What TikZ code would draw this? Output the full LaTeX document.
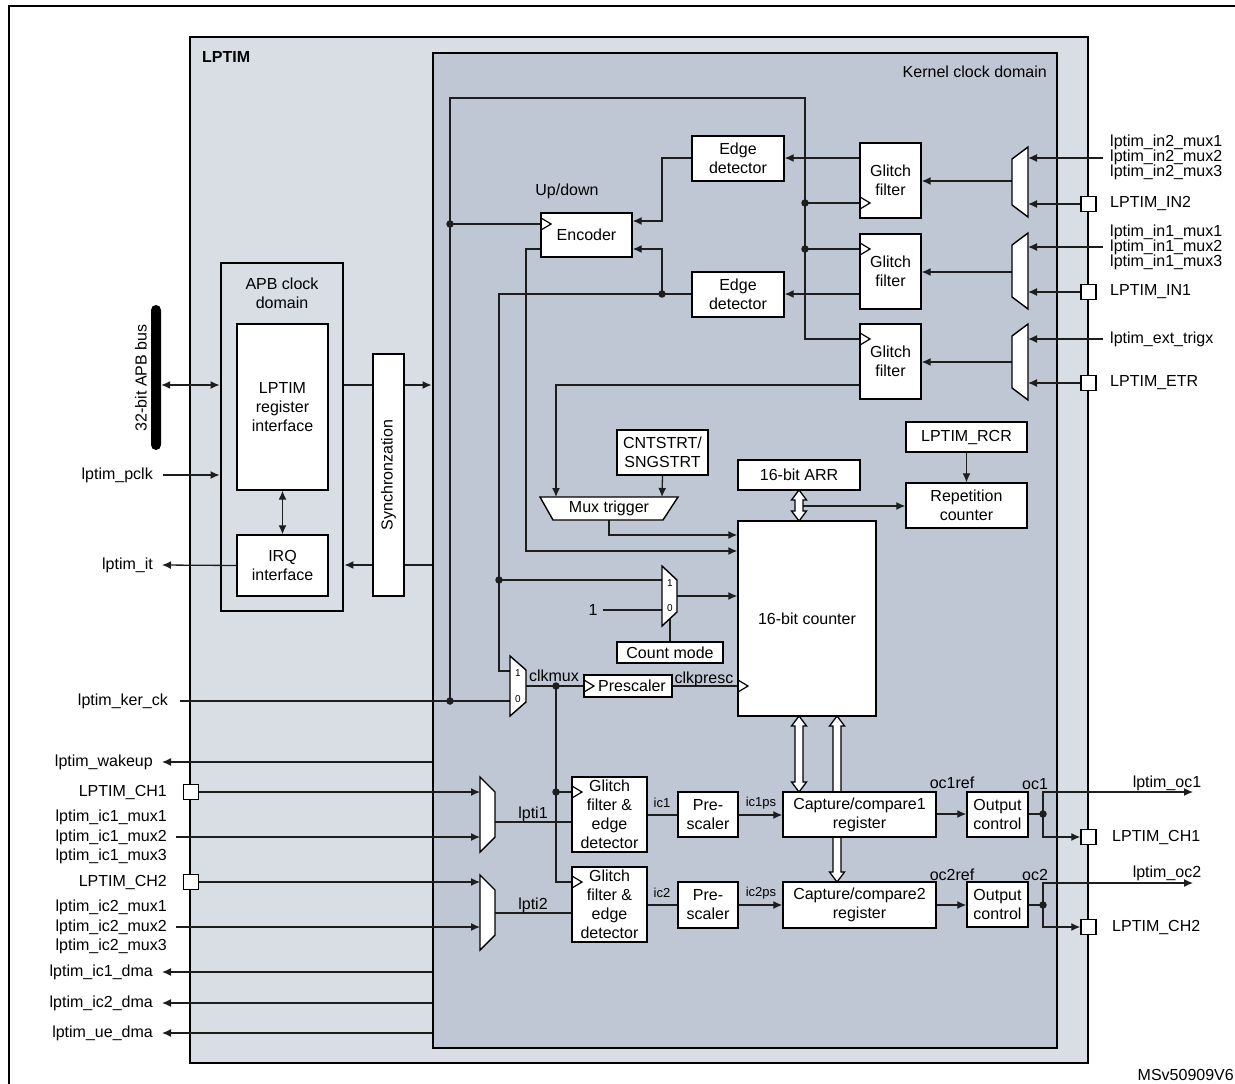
\documentclass[tikz,border=0pt]{standalone}
\usepackage{fontspec}
\setmainfont{Liberation Sans}
\usetikzlibrary{arrows.meta,calc}
\pgfdeclarelayer{back}
\pgfdeclarelayer{wire}
\pgfsetlayers{back,wire,main}
\newcommand\nfnt{\fontsize{16}{19}\selectfont}
\newcommand\rfnt{\fontsize{16}{15}\selectfont}
\newcommand\lfnt{\fontsize{16}{19.5}\selectfont}
\newcommand\sfnt{\fontsize{13}{15}\selectfont}
\newcommand\tfnt{\fontsize{10}{11}\selectfont}
\definecolor{lpfill}{RGB}{217,221,228}
\definecolor{kfill}{RGB}{191,199,213}
\definecolor{wcol}{RGB}{30,30,30}
\newcommand\holarrow[3]{\draw[hol] (#1-4,#2+10) -- (#1-7.5,#2+10) -- (#1,#2) -- (#1+7.5,#2+10) -- (#1+4,#2+10) -- (#1+4,#3-10) -- (#1+7.5,#3-10) -- (#1,#3) -- (#1-7.5,#3-10) -- (#1-4,#3-10) -- cycle;}
\begin{document}
\begin{tikzpicture}[x=1pt,y=-1pt,
  blk/.style={draw=black, line width=1.4pt, fill=white, inner sep=0pt, align=center, font=\nfnt},
  wh/.style 2 args={minimum width=#1pt, minimum height=#2pt},
  wire/.style={line width=1.3pt, draw=wcol},
  arr/.style={wire, -{Latex[length=9pt,width=8pt]}},
  darr/.style={wire, {Latex[length=9pt,width=8pt]}-{Latex[length=9pt,width=8pt]}},
  cont/.style={draw=black, line width=2.8pt, inner sep=0pt},
  lbl/.style={inner sep=0pt, font=\nfnt},
  slbl/.style={inner sep=0pt, font=\sfnt},
  tlbl/.style={inner sep=0pt, font=\tfnt},
  dotn/.style={circle, fill=wcol, inner sep=0pt, minimum size=7.5pt},
  pad/.style={draw=black, line width=1.4pt, fill=white, minimum size=15pt, inner sep=0pt},
  mux/.style={draw=black, line width=1.4pt, fill=white, line join=miter},
  clk/.style={draw=black, line width=1.2pt},
  hol/.style={draw=black, line width=1.3pt, fill=white, line join=miter},
]
\useasboundingbox (0,0) rectangle (1235,1084);

% ---------- containers ----------
\begin{pgfonlayer}{back}
\draw[line width=2pt] (9,1084) -- (9,6) -- (1235,6);
\node[cont, fill=lpfill, wh={898}{1026}] (lptim) at (639,550) {};
\node[cont, fill=kfill, wh={624}{995}] (kern) at (745,550.5) {};
\node[cont, fill=lpfill, wh={122}{348}] (apb) at (282,437) {};
\end{pgfonlayer}

\node[lbl, font=\nfnt\bfseries, anchor=west] (tlp) at (202,57) {LPTIM};
\node[lbl, anchor=east] (tkd) at (1047,72) {Kernel clock domain};
\node[lbl, align=center] (tapb) at (282,293) {APB clock\\domain};

% ---------- blocks ----------
\node[blk, wh={91}{166}] (regif) at (282.5,407) {LPTIM\\register\\interface};
\node[blk, wh={91}{61}] (irq) at (282.5,565.5) {IRQ\\interface};
\node[blk, rotate=90, wh={242}{31}] (sync) at (388.5,475) {Synchronzation};
\node[fill=black, rounded corners=5pt, minimum width=10pt, minimum height=145pt, inner sep=0pt] (bus) at (156,377.5) {};
\node[lbl, rotate=90] (tbus) at (141,378) {32-bit APB bus};

\node[blk, wh={92}{45}] (ed1) at (738,158.5) {Edge\\detector};
\node[blk, wh={92}{45}] (ed2) at (738,294.5) {Edge\\detector};
\node[blk, wh={61}{75}] (gf1) at (890.5,180.5) {Glitch\\filter};
\node[blk, wh={61}{75}] (gf2) at (890.5,271.5) {Glitch\\filter};
\node[blk, wh={61}{75}] (gf3) at (890.5,361.5) {Glitch\\filter};
\node[blk, wh={91}{44}] (enc) at (586.5,235) {Encoder};
\node[lbl] (tud) at (567,191) {Up/down};
\node[blk, wh={91}{45}] (cst) at (662.5,452.5) {CNTSTRT/\\SNGSTRT};
\node[blk, wh={122}{30}] (arr) at (799,475) {16-bit ARR};
\node[blk, wh={121}{30}] (rcr) at (966.5,437) {LPTIM\_RCR};
\node[blk, wh={121}{45}] (repc) at (966.5,505.5) {Repetition\\counter};
\node[blk, wh={138}{195}] (cnt) at (807,618.5) {16-bit counter};
\node[blk, wh={106}{21}] (cmode) at (670,652.5) {Count mode};
\node[blk, wh={88}{22}] (presc) at (628,686) {\hspace*{8pt}Prescaler};
\node[blk, wh={75}{75}] (gfed1) at (609.5,814.5) {Glitch\\filter \&\\edge\\detector};
\node[blk, wh={75}{75}] (gfed2) at (609.5,904.5) {Glitch\\filter \&\\edge\\detector};
\node[blk, wh={60}{45}] (pre1) at (708,814.5) {Pre-\\scaler};
\node[blk, wh={60}{46}] (pre2) at (708,905) {Pre-\\scaler};
\node[blk, wh={153}{45}] (cc1) at (859.5,814.5) {Capture/compare1\\register};
\node[blk, wh={153}{46}] (cc2) at (859.5,905) {Capture/compare2\\register};
\node[blk, wh={61}{45}] (oc1) at (997.5,814.5) {Output\\control};
\node[blk, wh={61}{45}] (oc2) at (997.5,904.5) {Output\\control};

% pads
\node[pad] (pin2) at (1088.5,204) {};
\node[pad] (pin1) at (1088.5,292) {};
\node[pad] (petr) at (1088.5,383) {};
\node[pad] (pch1r) at (1088.5,837) {};
\node[pad] (pch2r) at (1088.5,927) {};
\node[pad] (pch1) at (191,792) {};
\node[pad] (pch2) at (191,882) {};

% muxes
\draw[mux] (1028,147) -- (1028,217) -- (1012,205) -- (1012,159) -- cycle;
\draw[mux] (1028,233) -- (1028,309) -- (1012,297) -- (1012,245) -- cycle;
\draw[mux] (1028,324) -- (1028,400) -- (1012,388) -- (1012,336) -- cycle;
\draw[mux] (480,777) -- (495,792) -- (495,837) -- (480,852) -- cycle;
\draw[mux] (480,875) -- (495,890) -- (495,935) -- (480,950) -- cycle;
\draw[mux] (662,566) -- (677,580) -- (677,612) -- (662,626) -- cycle;
\draw[mux] (510,656) -- (526,670) -- (526,702) -- (510,716) -- cycle;
\draw[mux] (540,497) -- (678,497) -- (663,520) -- (553,520) -- cycle;
\node[lbl] (mtrig) at (609,508.5) {Mux trigger};
\node[tlbl] (k1) at (670,583) {1};
\node[tlbl] (k0) at (670,608) {0};
\node[tlbl] (c1) at (518,673) {1};
\node[tlbl] (c0) at (518,699) {0};

% mux pins
\coordinate (mAi1) at (1028,158); \coordinate (mAi2) at (1028,204); \coordinate (mAo) at (1012,181);
\coordinate (mBi1) at (1028,247); \coordinate (mBi2) at (1028,292); \coordinate (mBo) at (1012,272);
\coordinate (mCi1) at (1028,339); \coordinate (mCi2) at (1028,383); \coordinate (mCo) at (1012,362);
\coordinate (c1i1) at (480,792); \coordinate (c1i2) at (480,837); \coordinate (c1o) at (495,822);
\coordinate (c2i1) at (480,882); \coordinate (c2i2) at (480,927); \coordinate (c2o) at (495,913);
\coordinate (kmi1) at (662,580); \coordinate (kmi0) at (662,610); \coordinate (kmo) at (677,596); \coordinate (kms) at (670,618);
\coordinate (cmi1) at (510,671); \coordinate (cmi0) at (510,701); \coordinate (cmo) at (526,686);
\coordinate (mti1) at (556,497); \coordinate (mti2) at (662,497); \coordinate (mto) at (609,520);
% junctions
\coordinate (jk) at (450,701); \coordinate (jenc) at (450,224);
\coordinate (jg1) at (805,203); \coordinate (jg2) at (805,249);
\coordinate (jed) at (662,294); \coordinate (jcm) at (499,580);
\coordinate (jck) at (556,686); \coordinate (jgf) at (556,792);
\coordinate (jo1) at (1043,814); \coordinate (jo2) at (1043,905);
\coordinate (arrj) at (803,506);
\coordinate (oc1end) at (1193,792); \coordinate (oc2end) at (1193,883);

% ---------- labels outside ----------
\node[lbl, anchor=east] (pclk) at (153,475) {lptim\_pclk};
\node[lbl, anchor=east] (itl) at (153,565) {lptim\_it};
\node[lbl, anchor=east] (kerck) at (168,701) {lptim\_ker\_ck};
\node[lbl, anchor=east] (wake) at (153,762) {lptim\_wakeup};
\node[lbl, anchor=east] (tch1) at (167,792) {LPTIM\_CH1};
\node[lbl, anchor=east, align=right, font=\lfnt] (ic1m) at (167,837) {lptim\_ic1\_mux1\\lptim\_ic1\_mux2\\lptim\_ic1\_mux3};
\node[lbl, anchor=east] (tch2) at (167,882) {LPTIM\_CH2};
\node[lbl, anchor=east, align=right, font=\lfnt] (ic2m) at (167,927) {lptim\_ic2\_mux1\\lptim\_ic2\_mux2\\lptim\_ic2\_mux3};
\node[lbl, anchor=east] (dma1) at (153,972) {lptim\_ic1\_dma};
\node[lbl, anchor=east] (dma2) at (153,1003) {lptim\_ic2\_dma};
\node[lbl, anchor=east] (dma3) at (153,1033) {lptim\_ue\_dma};

\node[lbl, anchor=west, align=left, font=\rfnt] (in2m) at (1110,157) {lptim\_in2\_mux1\\lptim\_in2\_mux2\\lptim\_in2\_mux3};
\node[lbl, anchor=west] (tin2) at (1110,204) {LPTIM\_IN2};
\node[lbl, anchor=west, align=left, font=\rfnt] (in1m) at (1110,247) {lptim\_in1\_mux1\\lptim\_in1\_mux2\\lptim\_in1\_mux3};
\node[lbl, anchor=west] (tin1) at (1110,292) {LPTIM\_IN1};
\node[lbl, anchor=west] (ext) at (1110,339) {lptim\_ext\_trigx};
\node[lbl, anchor=west] (tetr) at (1110,383) {LPTIM\_ETR};
\node[lbl, anchor=west] (tch1r) at (1112,837) {LPTIM\_CH1};
\node[lbl, anchor=west] (tch2r) at (1112,927) {LPTIM\_CH2};
\node[lbl] (toc1) at (1167,783) {lptim\_oc1};
\node[lbl] (toc2) at (1167,873) {lptim\_oc2};
\node[lbl, anchor=east] (msv) at (1234,1075) {MSv50909V6};

% inner signal labels
\node[lbl] (tone) at (593,610) {1};
\node[lbl] (tclkmux) at (554,676) {clkmux};
\node[lbl] (tclkpresc) at (704,679) {clkpresc};
\node[lbl] (tlpti1) at (533,814) {lpti1};
\node[lbl] (tlpti2) at (533,905) {lpti2};
\node[slbl] (tic1) at (662,803) {ic1};
\node[slbl] (tic2) at (662,893) {ic2};
\node[slbl] (tic1ps) at (761,803) {ic1ps};
\node[slbl] (tic2ps) at (761,893) {ic2ps};
\node[lbl] (toc1ref) at (952,783) {oc1ref};
\node[lbl] (toc2ref) at (952,875) {oc2ref};
\node[lbl] (tocx1) at (1035,784) {oc1};
\node[lbl] (tocx2) at (1035,875) {oc2};

% ---------- wires ----------
\begin{pgfonlayer}{wire}
% APB side
\draw[darr] (bus.east |- 0,385) -- (apb.west |- 0,385);
\draw[arr] ([xshift=10pt]pclk.east) -- (apb.west |- 0,475);
\draw[arr] (irq.west) -- ([xshift=9pt]itl.east);
\draw[arr] (apb.east |- 0,385) -- (kern.west |- 0,385);
\draw[arr] (kern.west |- 0,565) -- (apb.east |- 0,565);
\draw[darr] (regif.south) -- (irq.north);
% kernel clock tree
\draw[wire] (jk) -- (jenc) -- (450,98) -- (805,98) -- (jg1) -- (jg2) -- (805,339) -- (gf3.west |- 0,339);
\draw[wire] (jenc) -- (enc.west |- jenc);
\draw[wire] (jg1) -- (gf1.west |- jg1);
\draw[wire] (jg2) -- (gf2.west |- jg2);
% input muxes
\draw[arr] ([xshift=-7pt]in2m.west |- mAi1) -- (mAi1);
\draw[arr] (pin2.west) -- (mAi2);
\draw[arr] ([xshift=-7pt]in1m.west |- mBi1) -- (mBi1);
\draw[arr] (pin1.west) -- (mBi2);
\draw[arr] ([xshift=-7pt]ext.west) -- (mCi1);
\draw[arr] (petr.west) -- (mCi2);
\draw[arr] (mAo) -- (gf1.east |- mAo);
\draw[arr] (mBo) -- (gf2.east |- mBo);
\draw[arr] (mCo) -- (gf3.east |- mCo);
% edge detectors / encoder
\draw[arr] (gf1.west |- 0,158) -- (ed1.east |- 0,158);
\draw[arr] (gf2.west |- 0,294) -- (ed2.east |- 0,294);
\draw[arr] (ed1.west |- 0,158) -- (662,158) -- (662,221) -- (enc.east |- 0,221);
\draw[wire] (ed2.west |- jed) -- (jed);
\draw[arr] (jed) -- (662,249) -- (enc.east |- 0,249);
\draw[wire] (jed) -- (499,294) -- (jcm) -- (499,671) -- (cmi1);
\draw[wire] (jcm) -- (kmi1);
\draw[wire] ([xshift=5pt]tone.east) -- (kmi0);
\draw[arr] (kmo) -- (cnt.west |- kmo);
\draw[wire] (kms) -- (cmode.north);
\draw[arr] (enc.west |- 0,249) -- (526,249) -- (526,551) -- (cnt.west |- 0,551);
\draw[arr] (gf3.west |- 0,385) -- (556,385) -- (mti1);
\draw[arr] (cst.south) -- (mti2);
\draw[arr] (mto) -- (609,535) -- (cnt.west |- 0,535);
% clocks
\draw[wire] ([xshift=12pt]kerck.east) -- (jk) -- (cmi0);
\draw[wire] (cmo) -- (jck) -- (presc.west |- jck);
\draw[wire] (presc.east |- jck) -- (cnt.west |- jck);
\draw[wire] (jck) -- (jgf) -- (556,882) -- (gfed2.west |- 0,882);
\draw[wire] (jgf) -- (gfed1.west |- jgf);
% ARR / repetition
\draw[arr] (arrj) -- (repc.west |- arrj);
\draw[arr] (rcr.south) -- (repc.north);
\holarrow{799}{490}{521}
\holarrow{799}{716}{792}
\holarrow{837}{716}{882}
% capture channels
\draw[arr] (pch1.east) -- (c1i1);
\draw[arr] ([xshift=9pt]ic1m.east |- c1i2) -- (c1i2);
\draw[arr] (pch2.east) -- (c2i1);
\draw[arr] ([xshift=9pt]ic2m.east |- c2i2) -- (c2i2);
\draw[wire] (c1o) -- (gfed1.west |- c1o);
\draw[wire] (c2o) -- (gfed2.west |- c2o);
\draw[wire] (gfed1.east |- 0,815) -- (pre1.west |- 0,815);
\draw[wire] (gfed2.east |- 0,905) -- (pre2.west |- 0,905);
\draw[arr] (pre1.east |- 0,815) -- (cc1.west |- 0,815);
\draw[arr] (pre2.east |- 0,905) -- (cc2.west |- 0,905);
\draw[arr] (cc1.east |- 0,814) -- (oc1.west |- 0,814);
\draw[arr] (cc2.east |- 0,905) -- (oc2.west |- 0,905);
\draw[wire] (oc1.east |- jo1) -- (jo1);
\draw[arr] (jo1) -- (1043,792) -- (oc1end);
\draw[arr] (jo1) -- (1043,837) -- (pch1r.west);
\draw[wire] (oc2.east |- jo2) -- (jo2);
\draw[arr] (jo2) -- (1043,883) -- (oc2end);
\draw[arr] (jo2) -- (1043,927) -- (pch2r.west);
% outputs on left
\draw[arr] (kern.west |- 0,762) -- ([xshift=9pt]wake.east);
\draw[arr] (kern.west |- 0,972) -- ([xshift=9pt]dma1.east);
\draw[arr] (kern.west |- 0,1003) -- ([xshift=9pt]dma2.east);
\draw[arr] (kern.west |- 0,1033) -- ([xshift=9pt]dma3.east);
\end{pgfonlayer}

% clock triangles
\draw[clk] (541,218) -- (551,224) -- (541,230);
\draw[clk] (860,197) -- (870,203) -- (860,209);
\draw[clk] (860,243) -- (870,249) -- (860,255);
\draw[clk] (860,333) -- (870,339) -- (860,345);
\draw[clk] (584,680) -- (594,686) -- (584,692);
\draw[clk] (738,680) -- (748,686) -- (738,692);
\draw[clk] (572,786) -- (582,792) -- (572,798);
\draw[clk] (572,876) -- (582,882) -- (572,888);

% dots
\node[dotn] (d1) at (jk) {};
\node[dotn] (d2) at (jenc) {};
\node[dotn] (d3) at (jg1) {};
\node[dotn] (d4) at (jg2) {};
\node[dotn] (d5) at (jed) {};
\node[dotn] (d6) at (jcm) {};
\node[dotn] (d7) at (jck) {};
\node[dotn] (d8) at (jgf) {};
\node[dotn] (d9) at (jo1) {};
\node[dotn] (d10) at (jo2) {};
\end{tikzpicture}
\end{document}
